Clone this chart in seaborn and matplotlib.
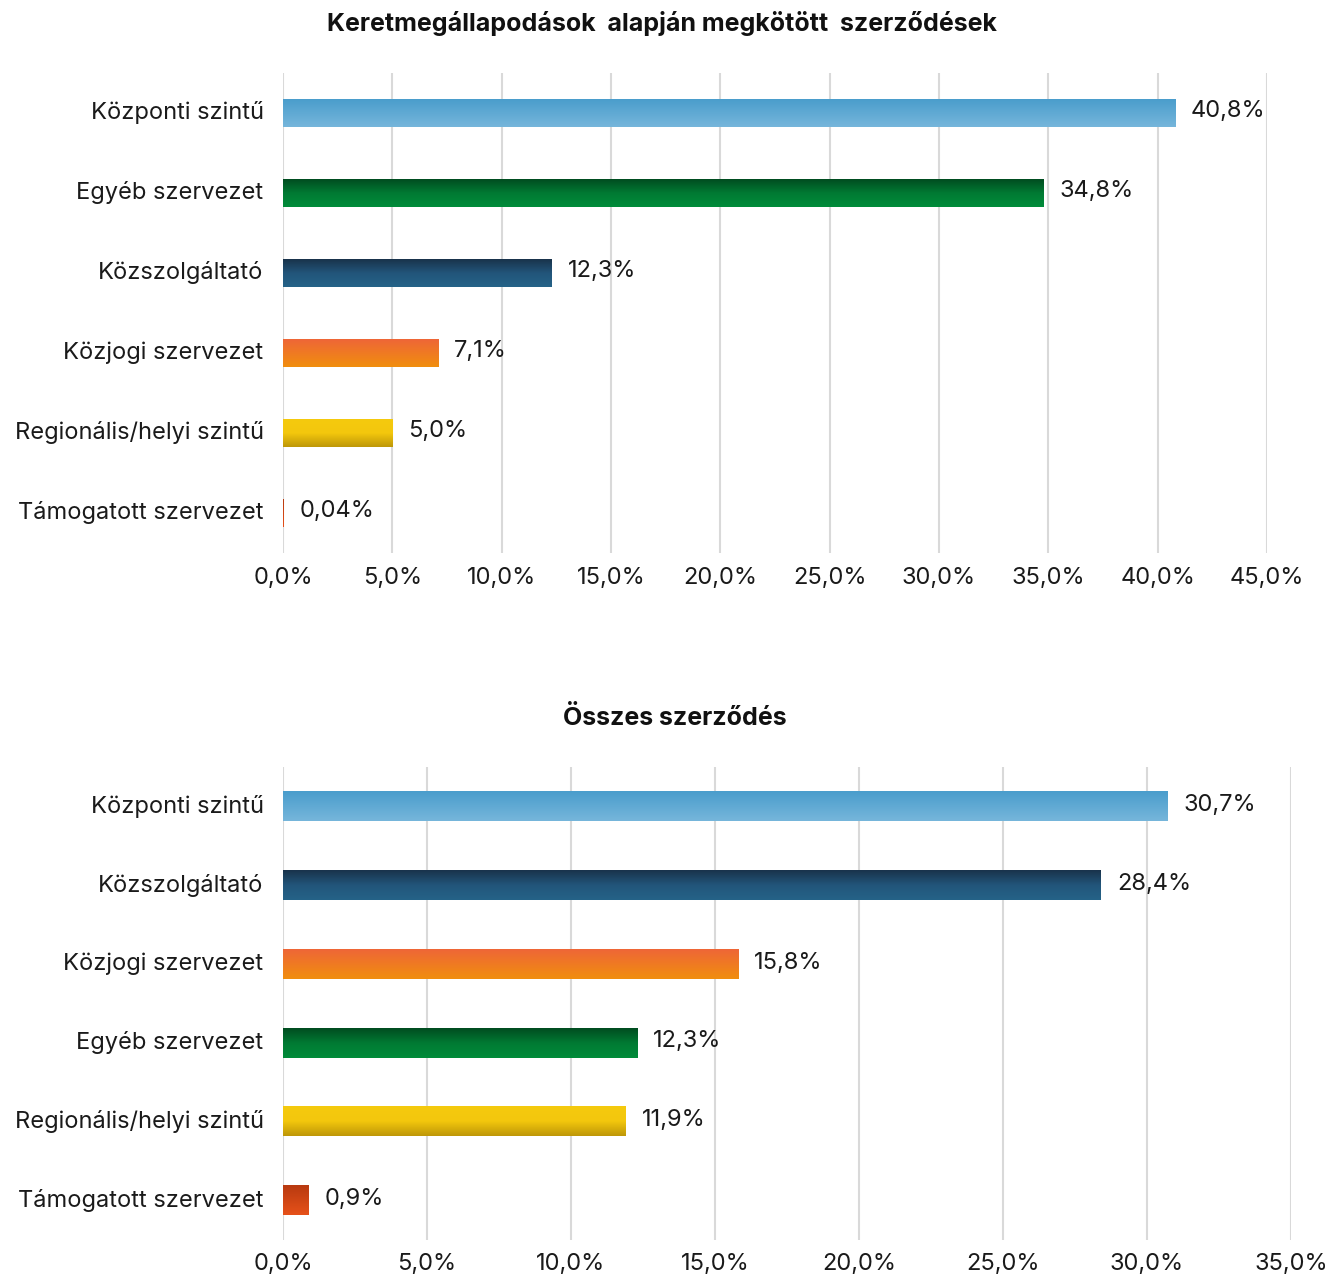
import matplotlib.pyplot as plt
import matplotlib.ticker as mticker
from matplotlib.colors import LinearSegmentedColormap
import numpy as np
import pandas as pd
import seaborn as sns

# Keretmegállapodások alapján megkötött szerződések
keret_kategoriak = ["Központi szintű", "Egyéb szervezet", "Közszolgáltató",
                    "Közjogi szervezet", "Regionális/helyi szintű", "Támogatott szervezet"]
keret_ertekek = [40.8, 34.8, 12.3, 7.1, 5.0, 0.04]
keret_cimkek = ["40,8%", "34,8%", "12,3%", "7,1%", "5,0%", "0,04%"]

# Összes szerződés
osszes_kategoriak = ["Központi szintű", "Közszolgáltató", "Közjogi szervezet",
                     "Egyéb szervezet", "Regionális/helyi szintű", "Támogatott szervezet"]
osszes_ertekek = [30.7, 28.4, 15.8, 12.3, 11.9, 0.9]
osszes_cimkek = ["30,7%", "28,4%", "15,8%", "12,3%", "11,9%", "0,9%"]

# színátmenet (felülről lefelé) kategóriánként
szinek = {
    "Központi szintű": ["#4A9DCC", "#76B6DB"],
    "Egyéb szervezet": ["#004C20", "#007A33", "#008C3A"],
    "Közszolgáltató": ["#19334B", "#22557A", "#256388"],
    "Közjogi szervezet": ["#EE6637", "#F18E0E"],
    "Regionális/helyi szintű": ["#F5CA0E", "#F3C70D", "#BE9708"],
    "Támogatott szervezet": ["#B83A10", "#E6511A"],
}

sns.set_theme(style="white")
plt.rcParams['font.family'] = ['Inter', 'DejaVu Sans']

FS = 17


def draw_chart(ax, kategoriak, ertekek, cimkek, xmax, bar_h, xpad):
    df = pd.DataFrame({"kat": kategoriak, "ertek": ertekek})
    sns.barplot(data=df, x="ertek", y="kat", orient="h", width=bar_h, ax=ax, color="white")

    # színátmenetes oszlopok
    grad = np.linspace(0, 1, 100).reshape(-1, 1)
    for patch, kat in zip(ax.patches, kategoriak):
        x0, y0 = patch.get_x(), patch.get_y()
        w, h = patch.get_width(), patch.get_height()
        cmap = LinearSegmentedColormap.from_list(kat, szinek[kat])
        patch.set_visible(False)
        ax.imshow(grad, cmap=cmap, aspect="auto", origin="upper",
                  extent=(x0, x0 + max(w, 0.04), y0 + h, y0), zorder=3)

    for i, (v, c) in enumerate(zip(ertekek, cimkek)):
        ax.text(v + xmax * 0.016, i - 0.02, c, va="center", ha="left", fontsize=FS, color="#1a1a1a")

    ax.set_xlim(0, xmax)
    ax.set_ylim(len(kategoriak) - 0.5, -0.5)
    ax.set_xticks(np.arange(0, xmax + 0.1, 5))
    ax.xaxis.set_major_formatter(mticker.FuncFormatter(lambda v, p: f"{v:.1f}%".replace(".", ",")))
    ax.grid(axis="x", color="#D9D9D9", linewidth=1.5, zorder=0)
    ax.set_axisbelow(True)
    for s in ax.spines.values():
        s.set_visible(False)
    ax.tick_params(axis="y", length=0, pad=14, labelsize=FS, colors="#1a1a1a")
    for lbl in ax.get_yticklabels():
        lbl.set_verticalalignment("center")
    ax.tick_params(axis="x", length=0, pad=xpad, labelsize=FS, colors="#1a1a1a")
    ax.set_xlabel("")
    ax.set_ylabel("")


fig = plt.figure(figsize=(13.29, 12.74), dpi=100)
ax1 = fig.add_axes([283 / 1329, 1 - 553 / 1274, (1267 - 283) / 1329, 480 / 1274])
ax2 = fig.add_axes([283 / 1329, 1 - 1240 / 1274, (1291 - 283) / 1329, 473 / 1274])

draw_chart(ax1, keret_kategoriak, keret_ertekek, keret_cimkek, 45, 0.35, 10)
draw_chart(ax2, osszes_kategoriak, osszes_ertekek, osszes_cimkek, 35, 0.37, 9)

fig.text(662 / 1329, 1 - 24 / 1274, "Keretmegállapodások  alapján megkötött  szerződések",
         ha="center", va="center", fontsize=18, fontweight="bold", color="#111111")
fig.text(675 / 1329, 1 - 718 / 1274, "Összes szerződés",
         ha="center", va="center", fontsize=18, fontweight="bold", color="#111111")

fig.savefig("out.png", dpi=100)
